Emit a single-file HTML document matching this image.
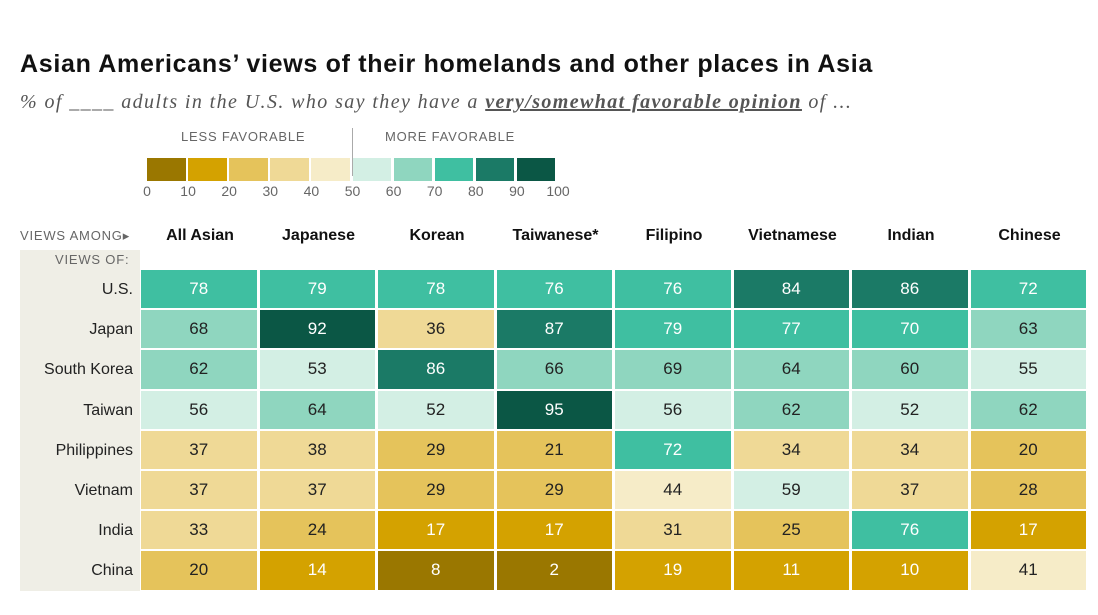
<!DOCTYPE html>
<html><head><meta charset="utf-8"><style>
body{margin:0;width:1098px;height:615px;background:#fff;font-family:"Liberation Sans",sans-serif;overflow:hidden;position:relative}
.a{position:absolute}
#title{left:20px;top:50px;font-size:25px;font-weight:bold;color:#111;letter-spacing:0.7px;white-space:nowrap}
#sub{left:20px;top:91px;font-family:"Liberation Serif",serif;font-style:italic;font-size:20px;color:#555;letter-spacing:1.4px;white-space:nowrap}
#sub b{text-decoration:underline;color:#555}
.cap{font-size:13px;color:#666;letter-spacing:0.8px}
.cell{position:absolute;display:flex;align-items:center;justify-content:center;font-size:17px}
.hdr{position:absolute;font-weight:bold;font-size:16px;color:#111;text-align:center;width:118px}
.rl{position:absolute;font-size:16px;color:#222;text-align:right;width:115px;left:18px;height:40px;line-height:40px}
</style></head><body>
<div id="title" class="a">Asian Americans’ views of their homelands and other places in Asia</div>
<div id="sub" class="a">% of ____ adults in the U.S. who say they have a <b>very/somewhat favorable opinion</b> of ...</div>
<div class="a cap" style="left:181px;top:129px">LESS FAVORABLE</div>
<div class="a cap" style="left:385px;top:129px">MORE FAVORABLE</div>
<div class="a" style="left:352px;top:128px;width:1px;height:48px;background:#aaa"></div>
<div id="legend"></div>
<div class="a" style="left:20px;top:250px;width:120px;height:341px;background:#efeee6"></div>
<div class="a cap" style="left:20px;top:228px;font-size:13px">VIEWS AMONG▸</div>
<div class="a cap" style="left:55px;top:252px">VIEWS OF:</div>
<div id="grid"></div>
<script>
const groups=["All Asian","Japanese","Korean","Taiwanese*","Filipino","Vietnamese","Indian","Chinese"];
const places=["U.S.","Japan","South Korea","Taiwan","Philippines","Vietnam","India","China"];
const values=[
[78,79,78,76,76,84,86,72],
[68,92,36,87,79,77,70,63],
[62,53,86,66,69,64,60,55],
[56,64,52,95,56,62,52,62],
[37,38,29,21,72,34,34,20],
[37,37,29,29,44,59,37,28],
[33,24,17,17,31,25,76,17],
[20,14,8,2,19,11,10,41]];
const legendTicks=[0,10,20,30,40,50,60,70,80,90,100];
const palette=["#9a7700","#d4a200","#e5c35b","#efd996","#f6ecc8","#d3efe4","#8fd6bf","#3fbfa1","#1b7a66","#0b5745"];
const x0=141,cw=118.5,y0=270,rh=40.2;
const col=v=>palette[Math.min(9,Math.floor(v/10))];
const txt=v=>(v<20||v>=70)?"#fff":"#222";
const leg=document.getElementById('legend');
palette.forEach((c,i)=>{const d=document.createElement('div');d.className='a';


d.style.cssText=`left:${147+i*41.1}px;top:158px;width:38.5px;height:23px;background:${c}`;leg.appendChild(d);});
legendTicks.forEach((t,i)=>{const d=document.createElement('div');d.className='a';


d.style.cssText=`left:${147+i*41.1-20}px;width:40px;text-align:center;top:183px;font-size:14px;color:#666`;d.textContent=t;leg.appendChild(d);});
const g=document.getElementById('grid');
groups.forEach((n,j)=>{const d=document.createElement('div');d.className='hdr';


d.style.left=(x0+j*cw)+'px';d.style.top='227px';d.textContent=n;g.appendChild(d);});
places.forEach((p,i)=>{const d=document.createElement('div');d.className='rl';


d.style.top=(y0+i*rh)+'px';d.textContent=p;g.appendChild(d);
values[i].forEach((v,j)=>{const c=document.createElement('div');c.className='cell';


c.style.cssText=`left:${x0+j*cw}px;top:${y0+i*rh}px;width:${cw-3}px;height:${rh-2}px;background:${col(v)};color:${txt(v)}`;
c.textContent=v;g.appendChild(c);});});
</script>
</body></html>
